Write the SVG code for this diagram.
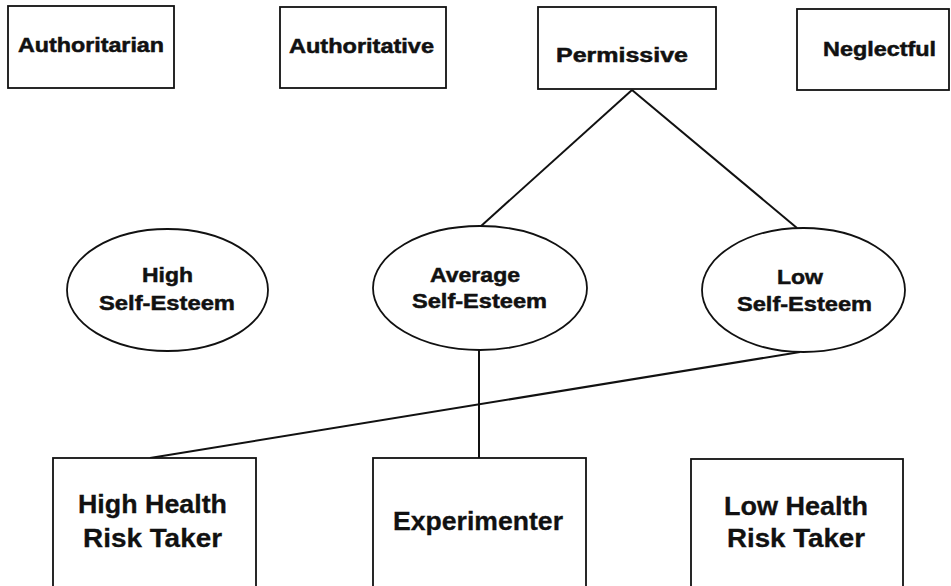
<svg xmlns="http://www.w3.org/2000/svg" width="951" height="586" viewBox="0 0 951 586">
  <style>
    .box { fill: #fff; stroke: #111; stroke-width: 1.8; }
    .oval { fill: #fff; stroke: #111; stroke-width: 1.8; }
    .link { stroke: #111; stroke-width: 2; fill: none; }
    text { font-family: "Liberation Sans", Arial, sans-serif; font-weight: bold; fill: #111; stroke: #111; stroke-width: 0.5; }
    .t { font-size: 20px; }
    .m { font-size: 21px; }
    .b { font-size: 25px; stroke-width: 0.3; }
  </style>
  <rect width="951" height="586" fill="#fff"/>

  <!-- connectors -->
  <g id="connectors">
    <line class="link" x1="632" y1="90" x2="480" y2="227"/>
    <line class="link" x1="632" y1="90" x2="797" y2="228"/>
    <line class="link" x1="479" y1="350" x2="479" y2="458"/>
    <line class="link" x1="800" y1="352" x2="150" y2="458"/>
  </g>

  <!-- parenting styles -->
  <g id="authoritarian">
    <rect class="box" x="8" y="6" width="166" height="82"/>
    <text class="t" x="18" y="52" textLength="146" lengthAdjust="spacingAndGlyphs">Authoritarian</text>
  </g>
  <g id="authoritative">
    <rect class="box" x="280" y="7" width="166" height="81"/>
    <text class="t" x="289" y="53" textLength="145" lengthAdjust="spacingAndGlyphs">Authoritative</text>
  </g>
  <g id="permissive">
    <rect class="box" x="538" y="7" width="178" height="82"/>
    <text class="t" x="556" y="62" textLength="132" lengthAdjust="spacingAndGlyphs">Permissive</text>
  </g>
  <g id="neglectful">
    <rect class="box" x="797" y="9" width="152" height="81"/>
    <text class="t" x="823" y="56" textLength="113" lengthAdjust="spacingAndGlyphs">Neglectful</text>
  </g>

  <!-- self-esteem levels -->
  <g id="high-esteem">
    <ellipse class="oval" cx="167.5" cy="290" rx="100.5" ry="61"/>
    <text class="m" x="142" y="282" textLength="51" lengthAdjust="spacingAndGlyphs">High</text>
    <text class="m" x="99" y="310" textLength="136" lengthAdjust="spacingAndGlyphs">Self-Esteem</text>
  </g>
  <g id="average-esteem">
    <ellipse class="oval" cx="480" cy="288" rx="107" ry="62"/>
    <text class="m" x="430" y="282" textLength="90" lengthAdjust="spacingAndGlyphs">Average</text>
    <text class="m" x="412" y="308" textLength="135" lengthAdjust="spacingAndGlyphs">Self-Esteem</text>
  </g>
  <g id="low-esteem">
    <ellipse class="oval" cx="803.5" cy="290" rx="101.5" ry="62"/>
    <text class="m" x="777" y="284" textLength="46" lengthAdjust="spacingAndGlyphs">Low</text>
    <text class="m" x="737" y="311" textLength="135" lengthAdjust="spacingAndGlyphs">Self-Esteem</text>
  </g>

  <!-- risk profiles -->
  <g id="high-risk">
    <rect class="box" x="53" y="458" width="203" height="150"/>
    <text class="b" x="78" y="513" textLength="149" lengthAdjust="spacingAndGlyphs">High Health</text>
    <text class="b" x="83" y="547" textLength="139" lengthAdjust="spacingAndGlyphs">Risk Taker</text>
  </g>
  <g id="experimenter">
    <rect class="box" x="373" y="458" width="213" height="150"/>
    <text class="b" x="393" y="530" textLength="170" lengthAdjust="spacingAndGlyphs">Experimenter</text>
  </g>
  <g id="low-risk">
    <rect class="box" x="691" y="459" width="212" height="150"/>
    <text class="b" x="724" y="515" textLength="144" lengthAdjust="spacingAndGlyphs">Low Health</text>
    <text class="b" x="727" y="547" textLength="138" lengthAdjust="spacingAndGlyphs">Risk Taker</text>
  </g>
</svg>
